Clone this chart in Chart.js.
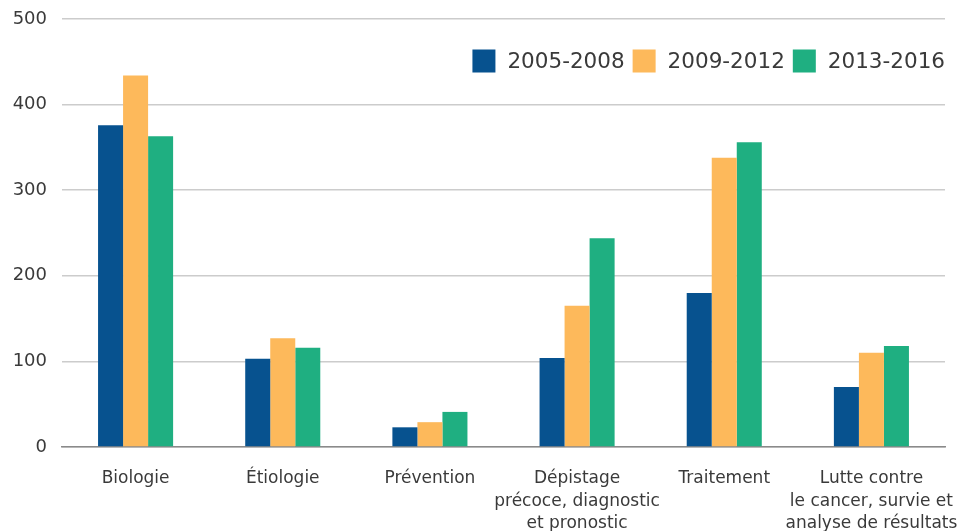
<!DOCTYPE html>
<html>
<head>
<meta charset="utf-8">
<script src="https://cdn.jsdelivr.net/npm/chart.js@4.4.1/dist/chart.umd.min.js"></script>
<style>
  html, body { margin: 0; padding: 0; background: #fff; }
  #wrap { width: 961px; height: 531px; }
</style>
</head>
<body>
<div id="wrap"><canvas id="graf"></canvas></div>
<script>
// Domaines de recherche et nombre de projets par période
const domaines = [
  'Biologie',
  'Étiologie',
  'Prévention',
  ['Dépistage', 'précoce, diagnostic', 'et pronostic'],
  'Traitement',
  ['Lutte contre', 'le cancer, survie et', 'analyse de résultats']
];
const periodes = ['2005-2008', '2009-2012', '2013-2016'];
const valeurs2005 = [376, 103, 23, 104, 180, 70];
const valeurs2009 = [434, 127, 29, 165, 338, 110];
const valeurs2013 = [363, 116, 41, 244, 356, 118];
const ticksY = [0, 100, 200, 300, 400, 500];

const COULEURS = ['#07528f', '#fdb95b', '#1faf81'];
const POLICE = '"DejaVu Sans", sans-serif';
const GRIS_TEXTE = '#3a3a3a';

// légende dessinée à la main, en haut à droite dans la zone du graphique
const legendeInterne = {
  id: 'legendeInterne',
  afterDraw(chart) {
    const { ctx, chartArea } = chart;
    const taille = 23, ecartTexte = 12, ecartItem = 8;
    const yMilieu = 61;
    ctx.save();
    ctx.font = '21.5px ' + POLICE;
    ctx.textBaseline = 'middle';
    ctx.textAlign = 'left';
    // on part de la droite
    let x = chartArea.right;
    const items = chart.data.datasets.map(d => ({ txt: d.label, col: d.backgroundColor }));
    for (let i = items.length - 1; i >= 0; i--) {
      const w = ctx.measureText(items[i].txt).width;
      x -= w;
      ctx.fillStyle = GRIS_TEXTE;
      ctx.fillText(items[i].txt, x, yMilieu + 1);
      x -= ecartTexte + taille;
      ctx.fillStyle = items[i].col;
      ctx.fillRect(x, yMilieu - taille / 2, taille, taille);
      x -= ecartItem;
    }
    ctx.restore();
  }
};

const ctx = document.getElementById('graf').getContext('2d');
new Chart(ctx, {
  type: 'bar',
  data: {
    labels: domaines,
    datasets: [
      { label: periodes[0], data: valeurs2005, backgroundColor: COULEURS[0] },
      { label: periodes[1], data: valeurs2009, backgroundColor: COULEURS[1] },
      { label: periodes[2], data: valeurs2013, backgroundColor: COULEURS[2] }
    ]
  },
  options: {
    animation: false,
    responsive: true,
    maintainAspectRatio: false,
    layout: { padding: { top: 19, right: 16, left: 0, bottom: 0 } },
    datasets: {
      bar: { categoryPercentage: 0.51, barPercentage: 1.0, borderWidth: 0 }
    },
    plugins: {
      legend: { display: false },
      tooltip: { enabled: false }
    },
    scales: {
      x: {
        grid: { display: false },
        border: { display: true, color: '#8a8a8a', width: 1.5 },
        ticks: {
          color: GRIS_TEXTE,
          font: { size: 17, family: POLICE, lineHeight: 1.3 },
          padding: 13,
          maxRotation: 0,
          autoSkip: false
        },
        afterFit(scale) {
          scale.height = 84;
          scale.paddingLeft = 0;
          scale.paddingRight = 0;
        }
      },
      y: {
        min: 0,
        max: 500,
        afterBuildTicks(scale) { scale.ticks = ticksY.map(v => ({ value: v })); },
        grid: { color: '#cccccc', lineWidth: 1.5, drawTicks: false },
        border: { display: false },
        ticks: {
          color: GRIS_TEXTE,
          font: { size: 18, family: POLICE },
          padding: 15
        },
        afterFit(scale) {
          scale.width = 62;
          scale.paddingTop = 0;
          scale.paddingBottom = 0;
        }
      }
    }
  },
  plugins: [legendeInterne]
});
</script>
</body>
</html>
